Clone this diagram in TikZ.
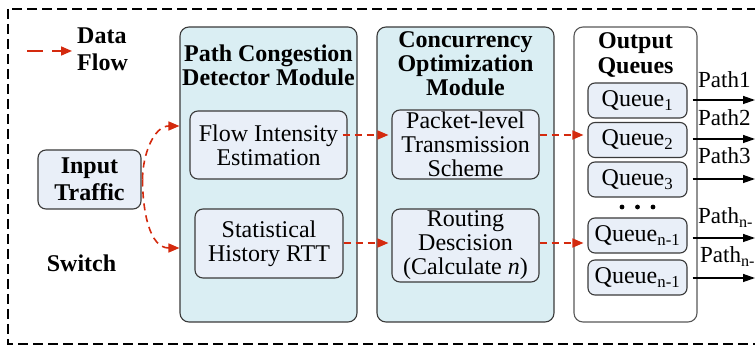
\documentclass[tikz,border=0pt]{standalone}
\usepackage{fontspec}
\setmainfont{Liberation Serif}
\usetikzlibrary{arrows.meta,calc}
\definecolor{modfill}{HTML}{DAEEF3}
\definecolor{boxfill}{HTML}{E9EFF8}
\definecolor{boxline}{HTML}{3A3A3A}
\definecolor{flowred}{HTML}{D42A0E}
\begin{document}
\begin{tikzpicture}[x=1pt,y=-1pt,
  every node/.style={font=\fontsize{24}{24}\selectfont, inner sep=0pt},
  module/.style={draw=boxline, line width=1.1pt, fill=modfill, rounded corners=9pt},
  inbox/.style={draw=boxline, line width=1.1pt, fill=boxfill, rounded corners=8pt, align=center},
  qbox/.style={draw=boxline, line width=1.1pt, fill=boxfill, rounded corners=7pt, minimum width=99pt, minimum height=35pt},
  title/.style={font=\fontsize{24}{24}\selectfont\bfseries, align=center},
  flow/.style={draw=flowred, line width=1.6pt, dash pattern=on 7pt off 5pt, -{Triangle[length=11pt,width=9pt,fill=flowred]}},
  outarrow/.style={draw=black, line width=1.3pt, -{Triangle[length=12pt,width=8pt]}},
  pathlbl/.style={anchor=base west, font=\fontsize{23}{24}\selectfont}
]
\useasboundingbox (0,0) rectangle (755,347);
\clip (0,0) rectangle (755,347);

% outer dashed switch border
\draw[line width=1.3pt, dash pattern=on 10pt off 5pt] (8,9) rectangle (820,344);

% legend
\coordinate (lg1) at (27,51);
\coordinate (lg2) at (72,51);
\draw[flow, dash pattern=on 16pt off 9pt] (lg1) -- (lg2);
\node[title, align=left, anchor=west, font=\fontsize{24}{27}\selectfont\bfseries] (legend) at (77,49) {Data\\Flow};

% input
\node[inbox, font=\fontsize{24}{27}\selectfont\bfseries, minimum width=103pt, minimum height=59pt] (ip) at (89.5,179.5) {Input\\Traffic};
\node[title] (sw) at (81.5,263) {Switch};

% modules
\node[module, minimum width=177pt, minimum height=295pt] (pcd) at (268.5,174.5) {};
\node[module, minimum width=177pt, minimum height=295pt] (com) at (465.5,174.5) {};
\node[draw=boxline!85, line width=1.1pt, fill=white, rounded corners=9pt, minimum width=123pt, minimum height=295pt] (oq) at (635.5,174.5) {};

\node[title] (pcdt) at (268.5,65) {Path Congestion\\Detector Module};
\node[title] (comt) at (465.5,64) {Concurrency\\Optimization\\Module};
\node[title, font=\fontsize{24}{25}\selectfont\bfseries] (oqt) at (635.5,55.5) {Output\\Queues};

\node[inbox, minimum width=157pt, minimum height=68pt] (fie) at (268.5,145) {Flow Intensity\\Estimation};
\node[inbox, minimum width=148pt, minimum height=69pt] (shr) at (269,243.5) {Statistical\\History RTT};
\node[inbox, minimum width=147pt, minimum height=69pt] (plt) at (465.5,144.5) {Packet-level\\Transmission\\Scheme};
\node[inbox, minimum width=147pt, minimum height=73pt] (rd) at (465.5,245.5) {Routing\\Descision\\(Calculate \textit{n})};

% queues
\node[qbox] (q1) at (637.5,100.5) {Queue\textsubscript{1}};
\node[qbox] (q2) at (637.5,140) {Queue\textsubscript{2}};
\node[qbox] (q3) at (637.5,179.5) {Queue\textsubscript{3}};
\node[qbox] (q4) at (637.5,235.5) {Queue\textsubscript{n-1}};
\node[qbox] (q5) at (637.5,277.5) {Queue\textsubscript{n-1}};
\fill (622,207) circle (2.4pt) (637.5,207) circle (2.4pt) (653,207) circle (2.4pt);

% red flows
\coordinate (ya) at (0,126);
\coordinate (yb) at (0,248);
\coordinate (yc) at (0,135);
\coordinate (yd) at (0,243);
\draw[flow] ($(ip.east)+(1,0)$) to[out=90,in=180] (pcd.west |- ya);
\draw[flow] ($(ip.east)+(1,0)$) to[out=-90,in=180] (pcd.west |- yb);
\draw[flow] ($(fie.east |- yc)+(-5,0)$) -- ($(plt.west |- yc)+(-3,0)$);
\draw[flow] (shr.east |- yd) -- ($(rd.west |- yd)+(-3,0)$);
\draw[flow] (plt.east |- yc) -- ($(q2.west |- yc)+(-4,0)$);
\draw[flow] (rd.east |- yd) -- ($(q4.west |- yd)+(-4,0)$);

% output paths
\coordinate (e1) at (755,100);
\coordinate (e2) at (755,139);
\coordinate (e3) at (755,179);
\coordinate (e4) at (755,238);
\coordinate (e5) at (755,278);
\draw[outarrow] ($(q1.east |- e1)+(5,0)$) -- (e1);
\draw[outarrow] ($(q2.east |- e2)+(5,0)$) -- (e2);
\draw[outarrow] ($(q3.east |- e3)+(5,0)$) -- (e3);
\draw[outarrow] ($(q4.east |- e4)+(5,0)$) -- (e4);
\draw[outarrow] ($(q5.east |- e5)+(5,0)$) -- (e5);
\node[pathlbl] (p1) at (698,88) {Path1};
\node[pathlbl] (p2) at (698,126) {Path2};
\node[pathlbl] (p3) at (698,164) {Path3};
\node[pathlbl] (p4) at (698,224) {Path\textsubscript{n-}};
\node[pathlbl] (p5) at (700,263) {Path\textsubscript{n-}};
\end{tikzpicture}
\end{document}
